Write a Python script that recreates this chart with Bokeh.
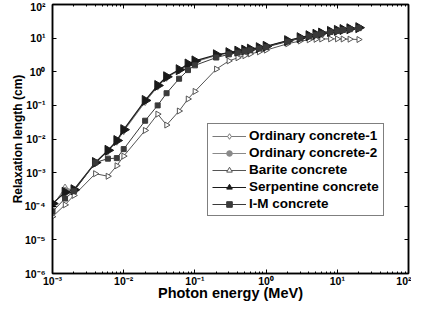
import numpy as np
from bokeh.plotting import figure
from bokeh.models import (LogAxis, LogTicker, FixedTicker, Legend, LegendItem, Range1d,
                          CustomJSTickFormatter, ColumnDataSource)
from bokeh.embed import file_html
from bokeh.resources import INLINE

energy = [0.001, 0.0015, 0.002, 0.004, 0.006, 0.008, 0.01, 0.02, 0.03, 0.04, 0.06, 0.08, 0.1,
          0.2, 0.3, 0.4, 0.5, 0.6, 0.8, 1, 2, 3, 4, 5, 6, 8, 10, 12, 15, 20]

ordinary1 = [1.0e-4, 3.6e-4, 2.9e-4, 1.9e-3, 4.3e-3, 8.3e-3, 0.017, 0.125, 0.36, 0.66, 1.1, 1.6, 1.95,
             3.05, 3.6, 4.0, 4.3, 4.6, 5.1, 5.6, 8.2, 10.1, 11.6, 12.8, 13.9, 15.6, 16.8, 17.8, 18.8, 20.2]
ordinary2 = [1.1e-4, 3.2e-4, 3.0e-4, 1.95e-3, 4.4e-3, 8.6e-3, 0.018, 0.13, 0.37, 0.68, 1.12, 1.65, 2.0,
             3.1, 3.65, 4.05, 4.35, 4.65, 5.15, 5.65, 8.3, 10.2, 11.7, 12.9, 14.0, 15.7, 16.9, 17.9, 18.9, 20.3]
barite = [4.9e-5, 1.1e-4, 2.1e-4, 9.3e-4, 7.8e-4, 1.6e-3, 3.1e-3, 0.018, 0.055, 0.026, 0.068, 0.155, 0.26,
          1.2, 2.1, 2.6, 3.0, 3.4, 3.9, 4.4, 6.8, 8.2, 8.9, 9.2, 9.4, 9.5, 9.5, 9.4, 9.3, 9.1]
serpentine = [1.2e-4, 2.6e-4, 3.1e-4, 2.0e-3, 4.6e-3, 9.0e-3, 0.019, 0.14, 0.39, 0.71, 1.15, 1.7, 2.1,
              3.2, 3.7, 4.1, 4.4, 4.7, 5.2, 5.7, 8.4, 10.3, 11.8, 13.0, 14.1, 15.8, 17.0, 18.0, 19.0, 20.5]
im_concrete = [7.0e-5, 1.7e-4, 2.8e-4, 2.0e-3, 2.6e-3, 2.7e-3, 5.0e-3, 0.035, 0.10, 0.23, 0.62, 1.12, 1.55,
               2.65, 3.3, 3.7, 4.05, 4.35, 4.9, 5.4, 7.9, 9.8, 11.3, 12.5, 13.6, 15.2, 16.4, 17.4, 18.4, 19.8]

series_names = ["Ordinary concrete-1", "Ordinary concrete-2", "Barite concrete",
                "Serpentine concrete", "I-M concrete"]

y_ticks = [1e-6, 1e-5, 1e-4, 1e-3, 1e-2, 1e-1, 1e0, 1e1, 1e2]

FONT = "Liberation Sans"

sup_formatter = CustomJSTickFormatter(code="""
    const sup = {'0':'\u2070','1':'\u00b9','2':'\u00b2','3':'\u00b3','4':'\u2074',
                 '5':'\u2075','6':'\u2076','7':'\u2077','8':'\u2078','9':'\u2079','-':'\u207b'};
    const e = Math.round(Math.log10(tick));
    let s = '';
    for (const c of String(e)) { s += sup[c]; }
    return '10' + s;
""")
blank_formatter = CustomJSTickFormatter(code="return ' ';")

p = figure(width=411, height=303, x_axis_type="log", y_axis_type="log",
           x_range=Range1d(1e-3, 1e2), y_range=Range1d(1e-6, 1e2),
           output_backend="svg", toolbar_location=None,
           min_border_left=52, min_border_right=0, min_border_top=4, min_border_bottom=0)
p.background_fill_color = "white"
p.border_fill_color = "white"
p.outline_line_color = "black"
p.outline_line_width = 1.5
p.grid.visible = False

xticker = LogTicker(desired_num_ticks=6, num_minor_ticks=10)
yticker = FixedTicker(ticks=y_ticks, minor_ticks=[])


def style_axis(ax, show_labels):
    ax.axis_line_color = "black"
    ax.axis_line_width = 1.5
    ax.major_tick_in = 4
    ax.major_tick_out = 0
    ax.minor_tick_in = 2
    ax.minor_tick_out = 0
    ax.major_tick_line_color = "black"
    ax.minor_tick_line_color = "black"
    ax.major_label_text_font = FONT
    ax.major_label_text_font_style = "bold"
    ax.major_label_text_font_size = "10.5px" if show_labels else "1px"
    ax.major_label_text_color = "black"
    ax.formatter = sup_formatter if show_labels else blank_formatter
    if not show_labels:
        ax.major_label_standoff = 0
    ax.axis_label_text_font = FONT
    ax.axis_label_text_font_style = "bold"
    ax.axis_label_text_color = "black"


p.xaxis.ticker = xticker
p.yaxis.ticker = yticker
style_axis(p.xaxis[0], True)
style_axis(p.yaxis[0], True)
p.xaxis.axis_label = "Photon energy (MeV)"
p.yaxis.axis_label = "Relaxation length (cm)"
p.xaxis.axis_label_text_font_size = "14.5px"
p.yaxis.axis_label_text_font_size = "12px"
p.xaxis.major_label_standoff = 1
p.xaxis.axis_label_standoff = -5
p.yaxis.major_label_standoff = 7
p.yaxis.axis_label_standoff = -3

top_ax = LogAxis(ticker=xticker)
style_axis(top_ax, False)
p.add_layout(top_ax, "above")
right_ax = LogAxis(ticker=yticker)
style_axis(right_ax, False)
p.add_layout(right_ax, "right")

items = []
l1 = p.line(energy, ordinary1, line_color="#7a7a7a", line_width=1)
m1 = p.scatter(energy, ordinary1, marker="diamond", size=7, line_color="#7a7a7a",
               fill_color="white", line_width=1)
items.append(LegendItem(label=series_names[0], renderers=[l1, m1]))
l2 = p.line(energy, ordinary2, line_color="#8a8a8a", line_width=1)
m2 = p.scatter(energy, ordinary2, marker="circle", size=4, line_color="#8a8a8a",
               fill_color="#8a8a8a", line_width=1)
items.append(LegendItem(label=series_names[1], renderers=[l2, m2]))

src_b = ColumnDataSource(dict(x=energy, y=barite, ang=[-np.pi / 2] * len(energy)))
l3 = p.line(energy, barite, line_color="#555555", line_width=1)
m3 = p.scatter("x", "y", source=src_b, marker="triangle", angle="ang", size=6,
               line_color="#555555", fill_color="white", line_width=1)
items.append(LegendItem(label=series_names[2], renderers=[l3, m3]))

src_s = ColumnDataSource(dict(x=energy, y=serpentine, ang=[-np.pi / 2] * len(energy)))
l4 = p.line(energy, serpentine, line_color="#1a1a1a", line_width=1.2)
m4 = p.scatter("x", "y", source=src_s, marker="triangle", angle="ang", size=10,
               line_color="#1a1a1a", fill_color="#1a1a1a", line_width=1)
items.append(LegendItem(label=series_names[3], renderers=[l4, m4]))

l5 = p.line(energy, im_concrete, line_color="#3a3a3a", line_width=1)
m5 = p.scatter(energy, im_concrete, marker="square", size=5, line_color="#3a3a3a",
               fill_color="#3a3a3a", line_width=1)
items.append(LegendItem(label=series_names[4], renderers=[l5, m5]))

legend = Legend(items=items, location=(155, 57))
legend.border_line_color = "black"
legend.border_line_width = 1.5
legend.background_fill_color = "white"
legend.background_fill_alpha = 1
legend.label_text_font = FONT
legend.label_text_font_style = "bold"
legend.label_text_font_size = "13.5px"
legend.label_text_color = "black"
legend.glyph_width = 34
legend.glyph_height = 14
legend.label_height = 14
legend.label_standoff = 3
legend.spacing = 2
legend.padding = 4
legend.margin = 0
p.add_layout(legend, "center")

open("out.html", "w").write(file_html(p, INLINE))
